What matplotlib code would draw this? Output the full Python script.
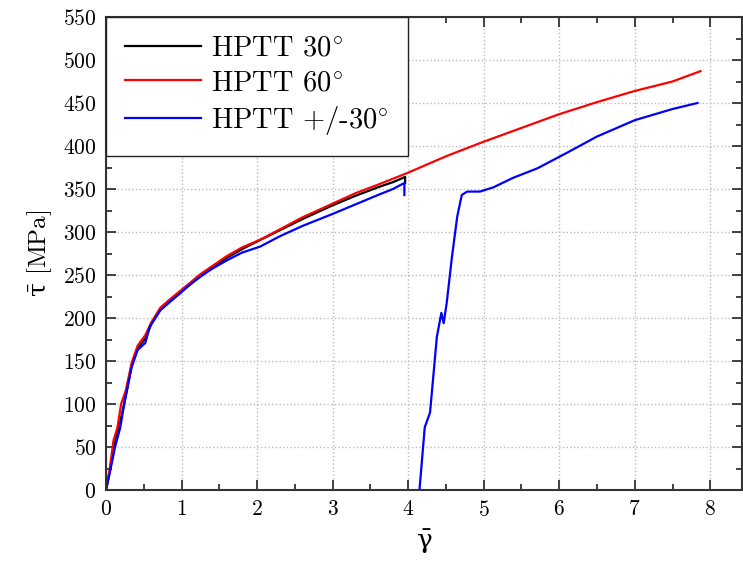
import matplotlib
matplotlib.use("Agg")
import matplotlib.pyplot as plt
import numpy as np
from matplotlib.ticker import MultipleLocator

plt.rcParams['font.family'] = ['cmr10', 'DejaVu Serif']
plt.rcParams['mathtext.fontset'] = 'cm'
plt.rcParams['axes.formatter.use_mathtext'] = True

# HPTT 30 deg
g30 = [0, 0.05, 0.12, 0.19, 0.26, 0.34, 0.42, 0.52, 0.6, 0.72, 0.85, 0.96, 1.1,
       1.25, 1.4, 1.6, 1.8, 2.0, 2.3, 2.6, 3.0, 3.3, 3.6, 3.8, 3.96, 3.96]
t30 = [0, 22, 55, 80, 108, 145, 165, 176, 193, 210, 220, 228, 238,
       249, 258, 270, 280, 289, 302, 315, 331, 342, 352, 358, 364, 357]

# HPTT 60 deg
g60 = [0, 0.05, 0.1, 0.15, 0.2, 0.26, 0.34, 0.42, 0.52, 0.6, 0.72, 0.85, 0.96,
       1.1, 1.25, 1.4, 1.6, 1.8, 2.04, 2.3, 2.6, 3.0, 3.3, 3.6, 4.0, 4.5,
       5.0, 5.5, 6.0, 6.5, 7.0, 7.5, 7.87]
t60 = [0, 25, 58, 72, 100, 115, 148, 168, 180, 195, 212, 222, 230,
       240, 251, 260, 272, 282, 291, 303, 317, 333, 345, 355, 369, 388,
       405, 421, 437, 451, 464, 475, 487]

# HPTT +/-30 deg (first loading)
gpm_a = [0, 0.05, 0.12, 0.19, 0.25, 0.34, 0.42, 0.52, 0.58, 0.72, 0.85, 0.96,
         1.1, 1.25, 1.4, 1.6, 1.8, 2.04, 2.3, 2.6, 3.0, 3.3, 3.6, 3.8, 3.95, 3.95]
tpm_a = [0, 20, 50, 73, 105, 143, 163, 171, 190, 209, 219, 227,
         238, 248, 257, 267, 276, 283, 295, 307, 321, 332, 343, 350, 357, 343]

# HPTT +/-30 deg (reloading)
gpm_b = [4.15, 4.22, 4.29, 4.38, 4.44, 4.47, 4.51, 4.58, 4.65, 4.71, 4.78,
         4.95, 5.13, 5.39, 5.71, 6.1, 6.5, 7.0, 7.5, 7.83]
tpm_b = [0, 73, 90, 178, 206, 194, 217, 271, 318, 343, 347,
         347, 352, 363, 374, 392, 411, 430, 443, 450]

fig = plt.figure(figsize=(7.43, 5.74), dpi=100)
ax = fig.add_axes([106 / 743, 1 - 490 / 574, 636 / 743, 473 / 574])

ax.plot(g30, t30, color='black', lw=1.6, label=r'HPTT 30$^{\circ}$')
ax.plot(g60, t60, color='red', lw=1.6, label=r'HPTT 60$^{\circ}$')
ax.plot(gpm_a, tpm_a, color='blue', lw=1.6, label=r'HPTT +/-30$^{\circ}$')
ax.plot(gpm_b, tpm_b, color='blue', lw=1.6)

ax.set_xlim(0, 8.42)
ax.set_ylim(0, 550)
ax.xaxis.set_major_locator(MultipleLocator(1))
ax.xaxis.set_minor_locator(MultipleLocator(0.5))
ax.yaxis.set_major_locator(MultipleLocator(50))
ax.yaxis.set_minor_locator(MultipleLocator(25))
ax.tick_params(which='both', direction='in', top=True, right=True,
               width=1.3, color='#333333')
ax.tick_params(which='major', length=7, labelsize=15.5, pad=7)
ax.tick_params(which='minor', length=4)
ax.grid(True, which='major', linestyle=':', color='#bbbbbb', lw=1)
for s in ax.spines.values():
    s.set_linewidth(1.5)
    s.set_color('#333333')

ax.set_xlabel(r'$\bar{\mathrm{\gamma}}$', fontsize=19, labelpad=6,
              math_fontfamily='dejavuserif')
ax.set_ylabel(r'$\bar{\mathrm{\tau}}$ [MPa]', fontsize=18, labelpad=6,
              math_fontfamily='dejavuserif')

leg = ax.legend(loc='upper left', borderaxespad=0, fancybox=False,
                edgecolor='#222222', framealpha=1, fontsize=20.5,
                handlelength=2.7, handletextpad=0.35, borderpad=0.65,
                labelspacing=0.28)
leg.get_frame().set_linewidth(1.0)

fig.savefig('out.png', dpi=100)
